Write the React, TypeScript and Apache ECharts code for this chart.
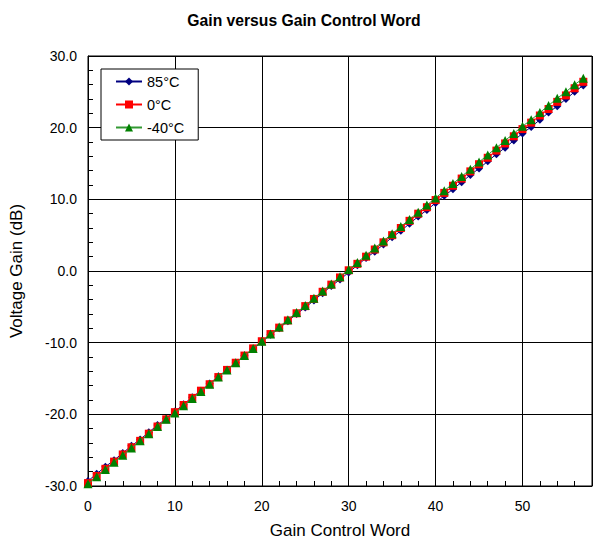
import React, { useEffect, useRef } from "react";
import * as echarts from "echarts";

const words: number[] = Array.from({ length: 58 }, (_, i) => i);

const gain85: number[] = [
  -29.3, -28.3, -27.3, -26.4, -25.4, -24.4, -23.5, -22.5, -21.5, -20.6,
  -19.6, -18.6, -17.6, -16.7, -15.7, -14.7, -13.8, -12.8, -11.8, -10.9,
  -9.9, -8.9, -8.0, -7.0, -6.0, -5.1, -4.1, -3.1, -2.1, -1.2,
  -0.2, 0.8, 1.8, 2.7, 3.7, 4.7, 5.6, 6.6, 7.6, 8.5,
  9.5, 10.5, 11.4, 12.4, 13.4, 14.3, 15.3, 16.3, 17.2, 18.2,
  19.2, 20.1, 21.1, 22.1, 23.0, 24.0, 25.0, 25.9,
];

const gain0: number[] = [
  -29.6, -28.6, -27.6, -26.6, -25.6, -24.6, -23.7, -22.7, -21.7, -20.7,
  -19.7, -18.7, -17.7, -16.7, -15.8, -14.8, -13.8, -12.8, -11.8, -10.8,
  -9.8, -8.8, -7.9, -6.9, -5.9, -4.9, -3.9, -2.9, -1.9, -0.9,
  0.1, 1.0, 2.0, 3.0, 4.0, 5.0, 6.0, 7.0, 8.0, 8.9,
  9.9, 10.9, 11.9, 12.9, 13.9, 14.9, 15.8, 16.8, 17.8, 18.8,
  19.8, 20.7, 21.7, 22.6, 23.6, 24.5, 25.5, 26.4,
];

const gainM40: number[] = [
  -29.7, -28.7, -27.7, -26.7, -25.7, -24.7, -23.7, -22.7, -21.7, -20.7,
  -19.8, -18.8, -17.8, -16.8, -15.8, -14.8, -13.8, -12.8, -11.8, -10.8,
  -9.8, -8.8, -7.8, -6.8, -5.8, -4.8, -3.8, -2.8, -1.8, -0.8,
  0.2, 1.2, 2.2, 3.2, 4.2, 5.2, 6.2, 7.2, 8.2, 9.2,
  10.2, 11.2, 12.2, 13.2, 14.2, 15.2, 16.2, 17.2, 18.2, 19.2,
  20.2, 21.1, 22.1, 23.1, 24.1, 25.0, 26.0, 26.9,
];

const seriesNames = ["85°C", "0°C", "-40°C"];
const FONT = "Liberation Sans, Arial, sans-serif";

export default function App() {
  const ref = useRef<HTMLDivElement>(null);
  useEffect(() => {
    if (!ref.current) return;
    const chart = echarts.init(ref.current, null, { renderer: "svg" });
    const mk = (vals: number[]) => words.map((w, i) => [w, vals[i]]);
    chart.setOption({
      animation: false,
      backgroundColor: "#fff",
      title: {
        text: "Gain versus Gain Control Word",
        left: 299,
        textAlign: "center",
        top: 7,
        textStyle: { fontFamily: FONT, fontSize: 15.7, fontWeight: "bold", color: "#000" },
      },
      legend: {
        orient: "vertical",
        left: 101,
        top: 69,
        padding: [5, 14, 5, 14],
        itemGap: 8,
        itemWidth: 26,
        itemHeight: 10,
        backgroundColor: "#fff",
        borderColor: "#000",
        borderWidth: 1,
        borderRadius: 0,
        textStyle: { fontFamily: FONT, fontSize: 14.5, color: "#000" },
        data: seriesNames,
      },
      grid: {
        left: 88,
        right: 3,
        top: 56,
        bottom: 54,
        show: true,
        borderColor: "#000",
        borderWidth: 1,
      },
      xAxis: {
        type: "value",
        min: 0,
        max: 58,
        interval: 10,
        name: "Gain Control Word",
        nameLocation: "middle",
        nameGap: 36,
        nameTextStyle: { fontFamily: FONT, fontSize: 17, color: "#000" },
        axisLine: { show: true, onZero: false, lineStyle: { color: "#000" } },
        axisTick: { show: true, inside: true, length: 5, lineStyle: { color: "#000" } },
        minorTick: { show: true, splitNumber: 5, length: 5, lineStyle: { color: "#000" } },
        axisLabel: {
          fontFamily: FONT, fontSize: 14, color: "#000", margin: 13,
          showMaxLabel: false,
        },
        splitLine: { show: true, lineStyle: { color: "#000", width: 1 } },
      },
      yAxis: {
        type: "value",
        min: -30,
        max: 30,
        interval: 10,
        name: "Voltage Gain (dB)",
        nameLocation: "middle",
        nameGap: 63,
        nameTextStyle: { fontFamily: FONT, fontSize: 17, color: "#000" },
        axisLine: { show: true, onZero: false, lineStyle: { color: "#000" } },
        axisTick: { show: true, inside: true, length: 5, lineStyle: { color: "#000" } },
        minorTick: { show: true, splitNumber: 5, length: 5, lineStyle: { color: "#000" } },
        axisLabel: {
          fontFamily: FONT, fontSize: 14, color: "#000", margin: 11,
          formatter: (v: number) => v.toFixed(1),
        },
        splitLine: { show: true, lineStyle: { color: "#000", width: 1 } },
      },
      series: [
        {
          name: seriesNames[0],
          type: "line",
          data: mk(gain85),
          symbol: "diamond",
          symbolSize: 8,
          color: "#000080",
          lineStyle: { width: 1, color: "#000080" },
          itemStyle: { color: "#000080" },
          z: 2,
        },
        {
          name: seriesNames[1],
          type: "line",
          data: mk(gain0),
          symbol: "rect",
          symbolSize: 8,
          color: "#ff0000",
          lineStyle: { width: 1, color: "#ff0000" },
          itemStyle: { color: "#ff0000" },
          z: 3,
        },
        {
          name: seriesNames[2],
          type: "line",
          data: mk(gainM40),
          symbol: "triangle",
          symbolSize: 9,
          color: "#008000",
          lineStyle: { width: 1, color: "#339933" },
          itemStyle: { color: "#008000" },
          z: 4,
        },
      ],
    });
    return () => chart.dispose();
  }, []);
  return (
    <div
      ref={ref}
      style={{ position: "absolute", left: 0, top: 0, width: 595, height: 544 }}
    />
  );
}
